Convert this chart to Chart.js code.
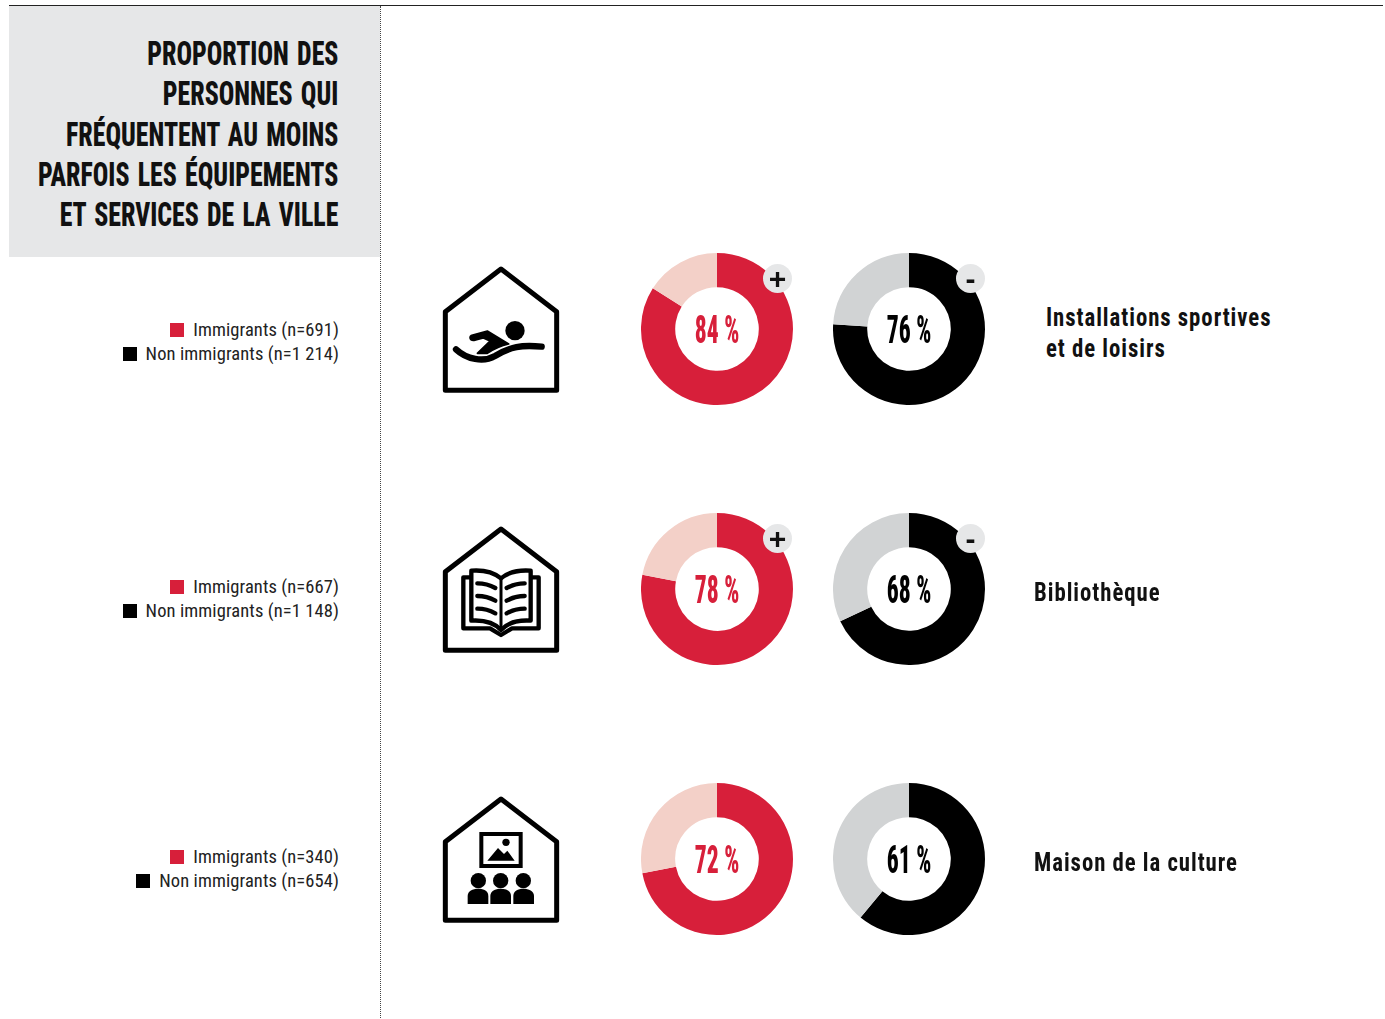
<!DOCTYPE html>
<html lang="fr">
<head>
<meta charset="utf-8">
<title>Fréquentation des équipements</title>
<script src="https://cdn.jsdelivr.net/npm/chart.js@4"></script>
<style>
  html, body { margin: 0; padding: 0; background: #fff; }
  #page { position: relative; width: 1385px; height: 1019px; overflow: hidden; font-family: Roboto, sans-serif; font-stretch: 75%; color: #111; }
  #topline { position: absolute; left: 9px; top: 5px; width: 1374px; height: 1px; background: #222; }
  #titlebox { position: absolute; left: 9px; top: 6px; width: 371px; height: 251px; background: #e6e7e8; }
  #divider { position: absolute; left: 380px; top: 6px; height: 1012px; border-left: 1px dotted #444; }
  #title { position: absolute; right: 1047px; top: 33px; text-align: right; font-size: 34px; font-weight: 800; line-height: 40.3px; word-spacing: 3px; white-space: nowrap; transform: scaleX(0.76); transform-origin: right top; }
  .legend { position: absolute; right: 1046px; font-size: 18.5px; line-height: 24px; text-align: right; white-space: nowrap; letter-spacing: 0.1px; color: #222; }
  .legend span { display: inline-block; width: 14px; height: 14px; margin-right: 9px; vertical-align: -1px; }
  .donut { position: absolute; width: 152px; height: 152px; }
  .pct { position: absolute; width: 100px; text-align: center; font-size: 38px; font-weight: 800; line-height: 40px; white-space: nowrap; transform: scaleX(0.62); }
  .badge { position: absolute; width: 29px; height: 29px; border-radius: 50%; background: #e6e7e8; text-align: center; font: bold 30px/29px "Liberation Sans", sans-serif; color: #111; }
  .cat { position: absolute; font-size: 26px; font-weight: 700; line-height: 31px; letter-spacing: 1.1px; white-space: nowrap; transform: scaleX(0.875); transform-origin: left top; color: #111; }
  svg.icon { position: absolute; left: 430px; width: 140px; height: 140px; }
</style>
</head>
<body>
<div id="page">
  <div id="titlebox"></div>
  <div id="topline"></div>
  <div id="divider"></div>
  <div id="title"></div>

  <svg class="icon" style="top:260px" viewBox="0 0 420 420">
    <path d="M46 155 L213 27 L380 155 L380 391 L46 391 Z" fill="none" stroke="#000" stroke-width="15" stroke-linejoin="round"/>
    <circle cx="255" cy="212" r="29" fill="#000"/>
    <path d="M128 225 L172 213 L236 252 C210 258 190 268 172 280 L142 280 L180 243 L160 234 L132 241 C118 242 116 228 128 225 Z" fill="#000" stroke="#000" stroke-width="5" stroke-linejoin="round"/>
    <path d="M78 268 C110 298 160 308 195 288 C240 260 275 254 335 260" fill="none" stroke="#000" stroke-width="19" stroke-linecap="round"/>
  </svg>

  <svg class="icon" style="top:520px" viewBox="0 0 420 420">
    <path d="M46 155 L213 27 L380 155 L380 391 L46 391 Z" fill="none" stroke="#000" stroke-width="15" stroke-linejoin="round"/>
    <path d="M125 172 L100 172 L100 325 L180 325 L213 345 L246 325 L326 325 L326 172 L300 172" fill="none" stroke="#000" stroke-width="13" stroke-linejoin="round"/>
    <path d="M213 175 C185 152 150 150 124 152 L124 302 C155 300 190 305 213 330 C236 305 271 300 302 302 L302 152 C276 150 241 152 213 175 Z" fill="#fff" stroke="#000" stroke-width="13" stroke-linejoin="round"/>
    <path d="M213 175 L213 330" stroke="#000" stroke-width="9"/>
    <path d="M142 190 C160 190 178 194 196 204 M142 228 C160 228 178 232 196 242 M142 266 C160 266 178 270 196 280" fill="none" stroke="#000" stroke-width="13" stroke-linecap="round"/>
    <path d="M284 190 C266 190 248 194 230 204 M284 228 C266 228 248 232 230 242 M284 266 C266 266 248 270 230 280" fill="none" stroke="#000" stroke-width="13" stroke-linecap="round"/>
  </svg>

  <svg class="icon" style="top:790px" viewBox="0 0 420 420">
    <path d="M46 155 L213 27 L380 155 L380 391 L46 391 Z" fill="none" stroke="#000" stroke-width="15" stroke-linejoin="round"/>
    <rect x="154" y="132" width="118" height="96" fill="none" stroke="#000" stroke-width="12"/>
    <circle cx="228" cy="157" r="11" fill="#000"/>
    <path d="M172 212 L204 174 L222 192 L232 182 L254 212 Z" fill="#000"/>
    <circle cx="145" cy="272" r="23" fill="#000"/>
    <circle cx="212" cy="272" r="23" fill="#000"/>
    <circle cx="280" cy="272" r="23" fill="#000"/>
    <path d="M113 342 L113 318 C113 302 128 296 145 296 C162 296 175 302 175 318 L175 342 Z" fill="#000"/>
    <path d="M181 342 L181 318 C181 302 196 296 212 296 C228 296 243 302 243 318 L243 342 Z" fill="#000"/>
    <path d="M250 342 L250 318 C250 302 264 296 280 296 C296 296 312 302 312 318 L312 342 Z" fill="#000"/>
  </svg>
</div>

<script>
var titleLines = ["PROPORTION DES", "PERSONNES QUI", "FRÉQUENTENT AU MOINS", "PARFOIS LES ÉQUIPEMENTS", "ET SERVICES DE LA VILLE"];
var categories = [["Installations sportives", "et de loisirs"], ["Bibliothèque"], ["Maison de la culture"]];
var immigrants = [84, 78, 72];
var nonImmigrants = [76, 68, 61];
var immigrantCounts = ["691", "667", "340"];
var nonImmigrantCounts = ["1 214", "1 148", "654"];
var immigrantBadges = ["+", "+", ""];
var nonImmigrantBadges = ["-", "-", ""];

var rowY = [329, 589, 859];
var legendY = [318, 575, 845];
var catPos = [[1046, 302], [1034, 577], [1034, 847]];
var RED = '#d71f3a', PALE = '#f3d0c8', BLACK = '#000000', GREY = '#d1d3d4';

var page = document.getElementById('page');
document.getElementById('title').innerHTML = titleLines.join('<br>');

function addDiv(cls, left, top, html, color) {
    var d = document.createElement('div');
    d.className = cls;
    d.style.left = left + 'px';
    d.style.top = top + 'px';
    if (color) d.style.color = color;
    d.innerHTML = html;
    page.appendChild(d);
    return d;
}

function addDonut(cx, cy, value, color, rest) {
    var c = document.createElement('canvas');
    c.className = 'donut';
    c.width = 152;
    c.height = 152;
    c.style.left = (cx - 76) + 'px';
    c.style.top = (cy - 76) + 'px';
    page.appendChild(c);
    new Chart(c, {
        type: 'doughnut',
        data: {
            labels: ['Au moins parfois', 'Autres'],
            datasets: [{ data: [value, 100 - value], backgroundColor: [color, rest], borderWidth: 0 }]
        },
        options: {
            responsive: false,
            animation: false,
            cutout: '55%',
            plugins: { legend: { display: false }, tooltip: { enabled: false } }
        }
    });
}

for (var i = 0; i < categories.length; i++) {
    addDonut(717, rowY[i], immigrants[i], RED, PALE);
    addDonut(909, rowY[i], nonImmigrants[i], BLACK, GREY);
    addDiv('pct', 667, rowY[i] - 19, immigrants[i] + ' %', RED);
    addDiv('pct', 859, rowY[i] - 19, nonImmigrants[i] + ' %', BLACK);
    if (immigrantBadges[i]) addDiv('badge', 763, rowY[i] - 65, immigrantBadges[i]);
    if (nonImmigrantBadges[i]) addDiv('badge', 956, rowY[i] - 65, nonImmigrantBadges[i]);

    var leg = document.createElement('div');
    leg.className = 'legend';
    leg.style.top = legendY[i] + 'px';
    leg.innerHTML = '<span style="background:' + RED + '"></span>Immigrants (n=' + immigrantCounts[i] + ')<br>' +
        '<span style="background:#000"></span>Non immigrants (n=' + nonImmigrantCounts[i] + ')';
    page.appendChild(leg);

    addDiv('cat', catPos[i][0], catPos[i][1], categories[i].join('<br>'));
}
</script>
</body>
</html>
